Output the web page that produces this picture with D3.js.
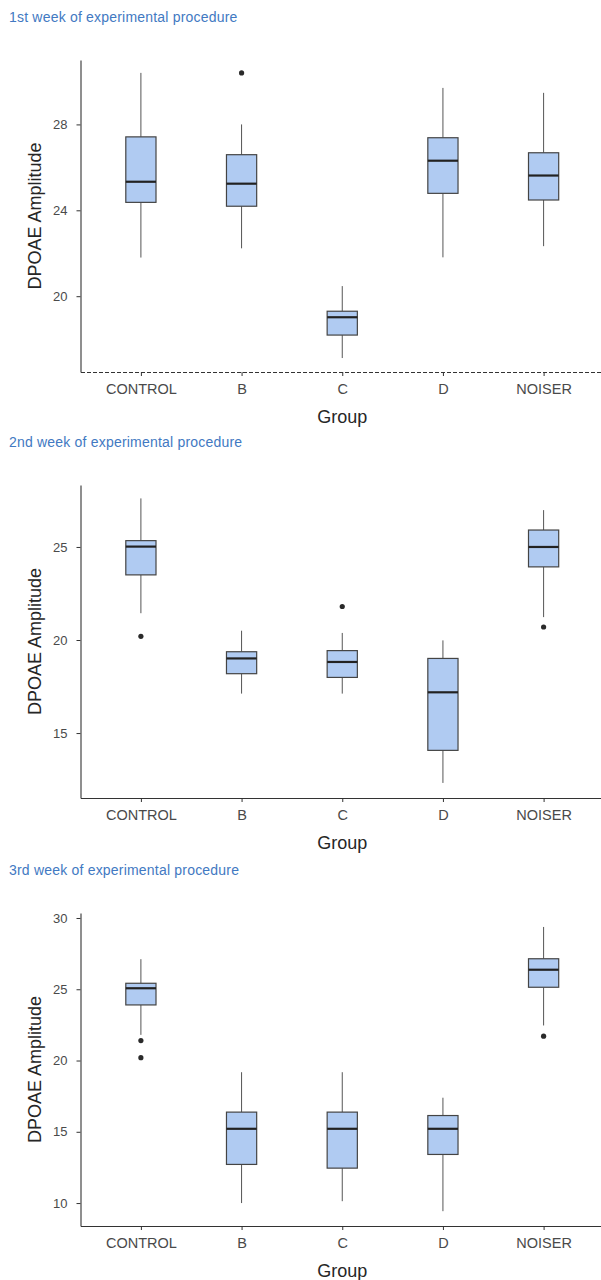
<!DOCTYPE html>
<html>
<head>
<meta charset="utf-8">
<script src="https://cdn.jsdelivr.net/npm/d3@7"></script>
<style>
  body { margin: 0; background: #fff; }
  svg { display: block; font-family: "Liberation Sans", Arial, sans-serif; }
  .title { fill: #4279c2; font-size: 14px; letter-spacing: 0.2px; }
  .axisTitle { fill: #262626; font-size: 18px; }
  .yAxis text { fill: #4a4a4a; font-size: 13px; }
  .xAxis text { fill: #4a4a4a; font-size: 14.5px; }
  .yAxis path, .xAxis path { stroke: #333; }
  .yAxis line, .xAxis line { stroke: #333; }
</style>
</head>
<body>
<div id="chart"></div>
<script>
var width = 601;
var height = 1280;

// groups on the x axis
var groups = ["CONTROL", "B", "C", "D", "NOISER"];

// box stats per group: [lower whisker, q1, median, q3, upper whisker]
var week1Stats = [
  [21.8, 24.37, 25.33, 27.42, 30.4],
  [22.23, 24.19, 25.24, 26.59, 28.0],
  [17.12, 18.19, 19.02, 19.3, 20.47],
  [21.81, 24.79, 26.31, 27.38, 29.7],
  [22.33, 24.48, 25.62, 26.68, 29.47]
];
var week1Outliers = [[], [30.4], [], [], []];

var week2Stats = [
  [21.44, 23.5, 25.02, 25.34, 27.61],
  [17.12, 18.19, 19.01, 19.37, 20.5],
  [17.12, 17.99, 18.82, 19.43, 20.38],
  [12.32, 14.07, 17.19, 19.01, 19.98],
  [21.23, 23.93, 25.0, 25.91, 26.98]
];
var week2Outliers = [[20.2], [], [21.8], [], [20.7]];

var week3Stats = [
  [21.8, 23.9, 25.07, 25.42, 27.11],
  [10.0, 12.71, 15.21, 16.38, 19.18],
  [10.13, 12.45, 15.21, 16.38, 19.18],
  [9.43, 13.41, 15.21, 16.14, 17.39],
  [22.46, 25.14, 26.37, 27.14, 29.37]
];
var week3Outliers = [[21.4, 20.2], [], [], [], [21.71]];

// y tick labels per panel
var week1Ticks = [20, 24, 28];
var week2Ticks = [15, 20, 25];
var week3Ticks = [10, 15, 20, 25, 30];

var panels = [
  { title: "1st week of experimental procedure", stats: week1Stats, outliers: week1Outliers,
    ticks: week1Ticks, domain: [16.47, 31.0], top: 60, bottom: 372, dashedX: true },
  { title: "2nd week of experimental procedure", stats: week2Stats, outliers: week2Outliers,
    ticks: week2Ticks, domain: [11.51, 28.33], top: 485, bottom: 798, dashedX: false },
  { title: "3rd week of experimental procedure", stats: week3Stats, outliers: week3Outliers,
    ticks: week3Ticks, domain: [8.39, 30.35], top: 913, bottom: 1226, dashedX: false }
];

var plotLeft = 80.5;
var plotRight = 604;
var boxFill = "#b0cbf2";

var svg = d3
  .select("#chart")
  .append("svg")
  .attr("width", width)
  .attr("height", height);

var xScale = d3
  .scalePoint()
  .domain(groups)
  .range([plotLeft, plotRight])
  .padding(0.6);

var boxWidth = xScale.step() * 0.3;

panels.forEach(function(p) {
  var g = svg.append("g");

  g.append("text")
    .attr("class", "title")
    .attr("x", 9)
    .attr("y", p.top - 38)
    .text(p.title);

  var yScale = d3
    .scaleLinear()
    .domain(p.domain)
    .range([p.bottom, p.top]);

  var yAxis = d3.axisLeft(yScale)
    .tickValues(p.ticks)
    .tickSize(4)
    .tickPadding(9)
    .tickSizeOuter(0);

  var xAxis = d3.axisBottom(xScale)
    .tickSize(4)
    .tickPadding(8)
    .tickSizeOuter(0);

  var xg = g.append("g")
    .attr("class", "xAxis")
    .attr("transform", "translate(0," + p.bottom + ")")
    .call(xAxis);
  xg.select(".domain").attr("stroke-width", 1.1);
  if (p.dashedX) {
    xg.select(".domain").attr("stroke-dasharray", "4,2").attr("stroke", "#555");
  }

  var yg = g.append("g")
    .attr("class", "yAxis")
    .attr("transform", "translate(" + plotLeft + ",0)")
    .call(yAxis);
  yg.select(".domain").attr("stroke-width", 1.1);

  // whiskers
  g.selectAll("line.whiskerLow")
    .data(p.stats)
    .enter()
    .append("line")
    .attr("x1", function(d, i) { return xScale(groups[i]); })
    .attr("x2", function(d, i) { return xScale(groups[i]); })
    .attr("y1", function(d) { return yScale(d[0]); })
    .attr("y2", function(d) { return yScale(d[1]); })
    .attr("stroke", "#555")
    .attr("stroke-width", 1);

  g.selectAll("line.whiskerHigh")
    .data(p.stats)
    .enter()
    .append("line")
    .attr("x1", function(d, i) { return xScale(groups[i]); })
    .attr("x2", function(d, i) { return xScale(groups[i]); })
    .attr("y1", function(d) { return yScale(d[3]); })
    .attr("y2", function(d) { return yScale(d[4]); })
    .attr("stroke", "#555")
    .attr("stroke-width", 1);

  // boxes
  g.selectAll("rect.box")
    .data(p.stats)
    .enter()
    .append("rect")
    .attr("x", function(d, i) { return xScale(groups[i]) - boxWidth / 2; })
    .attr("y", function(d) { return yScale(d[3]); })
    .attr("width", boxWidth)
    .attr("height", function(d) { return yScale(d[1]) - yScale(d[3]); })
    .attr("fill", boxFill)
    .attr("stroke", "#444")
    .attr("stroke-width", 1.2);

  // medians
  g.selectAll("line.median")
    .data(p.stats)
    .enter()
    .append("line")
    .attr("x1", function(d, i) { return xScale(groups[i]) - boxWidth / 2; })
    .attr("x2", function(d, i) { return xScale(groups[i]) + boxWidth / 2; })
    .attr("y1", function(d) { return yScale(d[2]); })
    .attr("y2", function(d) { return yScale(d[2]); })
    .attr("stroke", "#222")
    .attr("stroke-width", 2.2);

  // outliers
  var pts = [];
  p.outliers.forEach(function(list, i) {
    list.forEach(function(v) { pts.push({ group: groups[i], value: v }); });
  });
  g.selectAll("circle")
    .data(pts)
    .enter()
    .append("circle")
    .attr("cx", function(d) { return xScale(d.group); })
    .attr("cy", function(d) { return yScale(d.value); })
    .attr("r", 2.6)
    .attr("fill", "#2a2a2a");

  // axis titles
  g.append("text")
    .attr("class", "axisTitle")
    .attr("x", (plotLeft + plotRight) / 2)
    .attr("y", p.bottom + 51)
    .attr("text-anchor", "middle")
    .text("Group");

  g.append("text")
    .attr("class", "axisTitle")
    .attr("transform", "translate(40.5," + (p.top + p.bottom) / 2 + ")rotate(-90)")
    .attr("text-anchor", "middle")
    .text("DPOAE Amplitude");
});
</script>
</body>
</html>
